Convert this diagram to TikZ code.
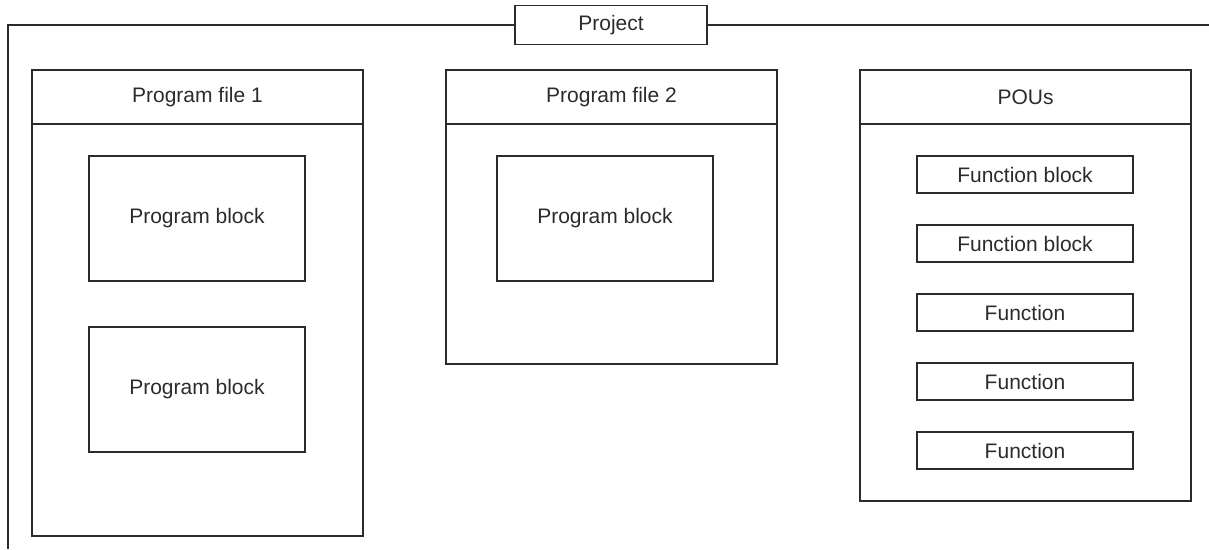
\documentclass[tikz,border=0pt]{standalone}
\usepackage{fontspec}
\setmainfont{Liberation Sans}
\usetikzlibrary{positioning}
\definecolor{ink}{HTML}{2B2B2B}
\tikzstyle{box}=[draw=ink, rectangle, inner sep=0pt, outer sep=0pt, anchor=north west]
\tikzstyle{head}=[box, minimum width=331pt, minimum height=54pt]
\tikzstyle{body}=[box, minimum width=331pt]
\tikzstyle{prog}=[box, minimum width=216pt, minimum height=125pt]
\tikzstyle{fun}=[box, minimum width=216pt, minimum height=37pt]

\begin{document}
\begin{tikzpicture}[x=1pt,y=-1pt,node distance=32pt,line width=1.3pt,
    font=\fontsize{21}{25}\selectfont,text=ink]
        \useasboundingbox (0,0) rectangle (1209,549);
        % outer project frame
        \node [box,anchor=center,minimum width=192pt,minimum height=39pt] (proj) at (611,25) {Project};
        \coordinate (fbl) at (8,549);
        \coordinate (fr) at (1209,25);
        \draw [ink] (proj.west) -| (fbl);
        \draw [ink] (proj.east) -- (fr);

        % program file 1
        \node [head] (pf1) at (32,70) {Program file 1};
        \node [body,minimum height=412pt,below=0pt of pf1] (pf1b) {};
        \node [prog] (pb1) at (89,156) {Program block};
        \node [prog,below=46pt of pb1] (pb2) {Program block};

        % program file 2
        \node [head] (pf2) at (446,70) {Program file 2};
        \node [body,minimum height=240pt,below=0pt of pf2] (pf2b) {};
        \node [prog] (pb3) at (497,156) {Program block};

        % POUs
        \node [head] (pou) at (860,70) {POUs};
        \node [body,minimum height=377pt,below=0pt of pou] (poub) {};
        \node [fun] (fb1) at (917,156) {Function block};
        \node [fun,below=of fb1] (fb2) {Function block};
        \node [fun,below=of fb2] (fn1) {Function};
        \node [fun,below=of fn1] (fn2) {Function};
        \node [fun,below=of fn2] (fn3) {Function};
\end{tikzpicture}
\end{document}
